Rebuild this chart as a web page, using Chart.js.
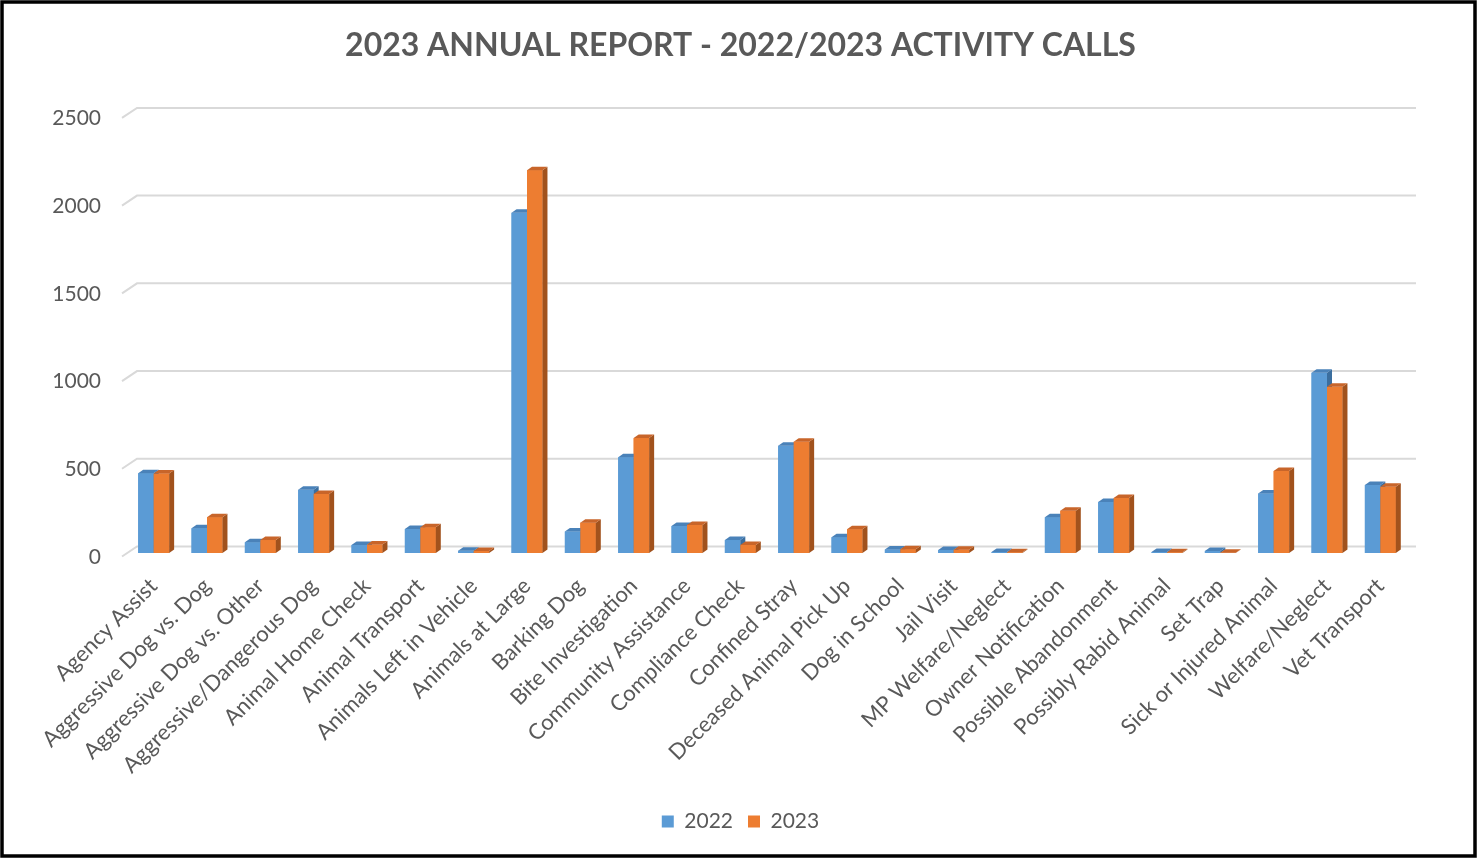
<!DOCTYPE html>
<html>
<head>
<meta charset="utf-8">
<script src="https://cdn.jsdelivr.net/npm/chart.js@4.4.1/dist/chart.umd.min.js"></script>
<style>
  html, body { margin: 0; padding: 0; background: #fff; }
  #wrap { width: 1481px; height: 860px; position: relative; }
</style>
</head>
<body>
<div id="wrap"><canvas id="chart"></canvas></div>
<script>
// activity categories, in the order shown on the x axis
var categories = [
	'Agency Assist', 'Aggressive Dog vs. Dog', 'Aggressive Dog vs. Other', 'Aggressive/Dangerous Dog',
	'Animal Home Check', 'Animal Transport', 'Animals Left in Vehicle', 'Animals at Large',
	'Barking Dog', 'Bite Investigation', 'Community Assistance', 'Compliance Check',
	'Confined Stray', 'Deceased Animal Pick Up', 'Dog in School', 'Jail Visit',
	'MP Welfare/Neglect', 'Owner Notification', 'Possible Abandonment', 'Possibly Rabid Animal',
	'Set Trap', 'Sick or Injured Animal', 'Welfare/Neglect', 'Vet Transport'
];
var calls2022 = [455, 141, 61, 360, 46, 137, 13, 1939, 122, 546, 154, 74, 611, 90, 20, 17, 5, 204, 291, 5, 12, 339, 1027, 388];
var calls2023 = [453, 204, 74, 337, 48, 147, 12, 2182, 173, 655, 160, 46, 634, 135, 22, 19, 4, 241, 314, 4, 2, 468, 947, 377];
var yTicks = [0, 500, 1000, 1500, 2000, 2500];

var textColor = '#595959';
var fontName = 'Lato';

// front, side and top faces so the columns look like the excel 3d ones
var faces = [
	{ front: '#5b9bd5', side: '#3b6e9e', top: '#4a82b9' },
	{ front: '#ed7d31', side: '#a1521d', top: '#c8652a' }
];
var DX = 5, DY = 3.5;

var columns3d = {
	id: 'columns3d',
	afterDatasetsDraw: function (chart) {
		var ctx = chart.ctx;
		var metas = [chart.getDatasetMeta(0), chart.getDatasetMeta(1)];
		ctx.save();
		for (var i = 0; i < categories.length; i++) {
			// 2022 first so the 2023 front face covers its side
			for (var k = 0; k < 2; k++) {
				var p = metas[k].data[i].getProps(['x', 'y', 'base', 'width'], true);
				var l = p.x - p.width / 2, r = p.x + p.width / 2;
				var f = faces[k];
				ctx.fillStyle = f.front;
				ctx.fillRect(l, p.y, p.width, p.base - p.y);
				ctx.fillStyle = f.side;
				ctx.beginPath();
				ctx.moveTo(r, p.y);
				ctx.lineTo(r + DX, p.y - DY);
				ctx.lineTo(r + DX, p.base - DY);
				ctx.lineTo(r, p.base);
				ctx.closePath();
				ctx.fill();
				ctx.fillStyle = f.top;
				ctx.beginPath();
				ctx.moveTo(l, p.y);
				ctx.lineTo(l + DX, p.y - DY);
				ctx.lineTo(r + DX, p.y - DY);
				ctx.lineTo(r, p.y);
				ctx.closePath();
				ctx.fill();
			}
		}
		ctx.restore();
	}
};

// gridlines sit on the back wall, with a short slanted piece on the floor side
var backGrid = {
	id: 'backGrid',
	beforeDatasetsDraw: function (chart) {
		var ctx = chart.ctx;
		var a = chart.chartArea;
		var ys = chart.scales.y;
		ctx.save();
		ctx.strokeStyle = '#d9d9d9';
		ctx.lineWidth = 2;
		yTicks.forEach(function (v) {
			var y = ys.getPixelForValue(v);
			ctx.beginPath();
			ctx.moveTo(a.left - 5, y + 3.5);
			ctx.lineTo(a.left + 10, y - 6.5);
			ctx.lineTo(a.right + 9, y - 6.5);
			ctx.stroke();
		});
		ctx.restore();
	},
	afterDraw: function (chart) {
		var ctx = chart.ctx;
		ctx.save();
		ctx.strokeStyle = '#000';
		ctx.lineWidth = 3.5;
		ctx.strokeRect(2, 2, 1473, 854);
		ctx.restore();
	}
};

var chart = new Chart(document.getElementById('chart'), {
	type: 'bar',
	data: {
		labels: categories,
		datasets: [
			{ label: '2022', data: calls2022, backgroundColor: faces[0].front },
			{ label: '2023', data: calls2023, backgroundColor: faces[1].front }
		]
	},
	options: {
		responsive: true,
		maintainAspectRatio: false,
		animation: false,
		layout: { padding: { left: 0, right: 0, top: 0, bottom: 18 } },
		datasets: { bar: { categoryPercentage: 0.58, barPercentage: 1.0 } },
		plugins: {
			title: {
				display: true,
				text: '2023 ANNUAL REPORT - 2022/2023 ACTIVITY CALLS',
				color: textColor,
				font: { family: fontName, size: 32, weight: 'bold' },
				padding: { top: 26, bottom: 50 }
			},
			legend: {
				position: 'bottom',
				labels: {
					color: textColor,
					font: { family: fontName, size: 21 },
					boxWidth: 12,
					boxHeight: 12,
					padding: 15
				}
			},
			tooltip: { enabled: false }
		},
		scales: {
			x: {
				grid: { display: false, drawTicks: false },
				border: { display: false },
				ticks: {
					color: textColor,
					font: { family: fontName, size: 22 },
					minRotation: 45,
					maxRotation: 45,
					autoSkip: false,
					padding: 20
				},
				afterFit: function (scale) { scale.height = 243; }
			},
			y: {
				min: 0,
				max: 2500,
				grid: { display: false, drawTicks: false },
				border: { display: false },
				ticks: {
					stepSize: 500,
					color: textColor,
					font: { family: fontName, size: 21 },
					padding: 26,
					labelOffset: 4,
					callback: function (v) { return String(v); }
				},
				afterFit: function (scale) { scale.width = 127; }
			},
			// empty strip on the right so title and legend centre on the whole frame
			spacer: {
				type: 'linear',
				position: 'right',
				display: true,
				grid: { display: false, drawTicks: false },
				border: { display: false },
				ticks: { display: false },
				afterFit: function (scale) { scale.width = 74; }
			}
		}
	},
	plugins: [backGrid, columns3d]
});
</script>
</body>
</html>
